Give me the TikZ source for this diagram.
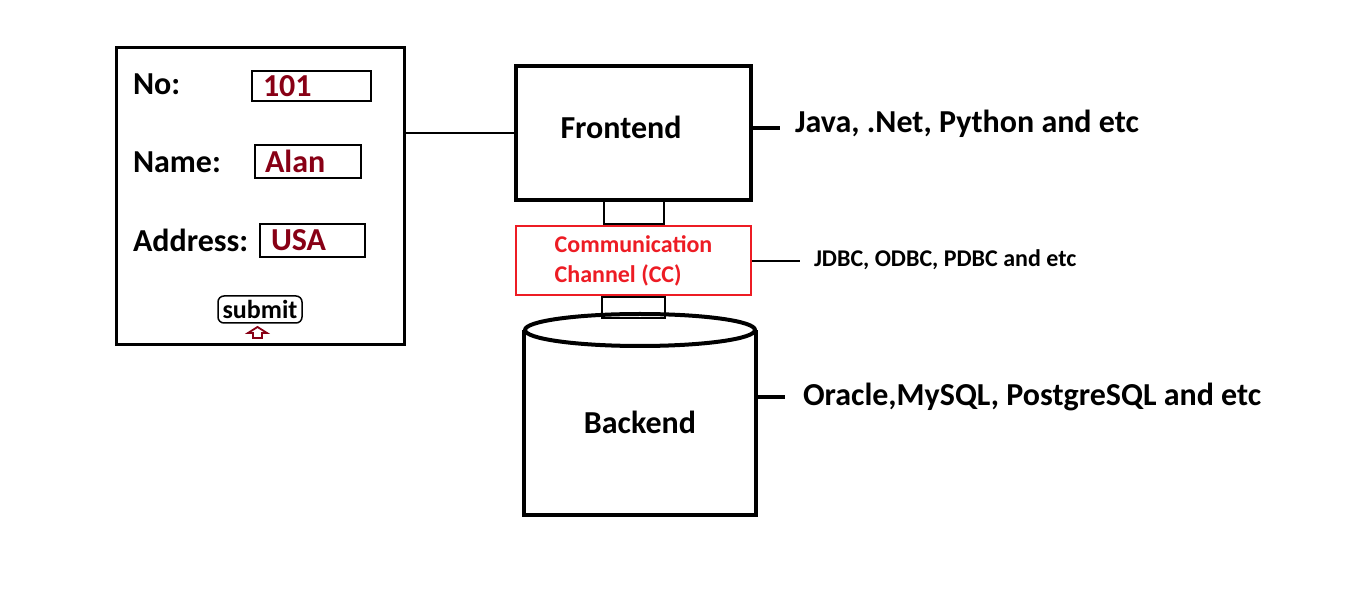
\documentclass[tikz,border=0pt]{standalone}
\usepackage{fontspec}
\setmainfont{Carlito}
\usepackage{tikz}
\usetikzlibrary{calc}
\usetikzlibrary{positioning}
\definecolor{fieldred}{RGB}{136,0,21}
\definecolor{ccred}{RGB}{237,28,36}

\begin{document}
\begin{tikzpicture}[x=1pt, y=1pt,
    font=\fontsize{32}{36}\selectfont\bfseries,
    inner sep=0pt,
    line width=2pt]
    % the form
    \node[name=form,
      shape=rectangle,
      line width=3pt,
      minimum width=288pt,
      minimum height=297pt,
      draw] at (260,416.5) {};

    \node[name=nolbl, anchor=base west] at (132,518) {No:};
    \node[name=namelbl, anchor=base west] at (132,440) {Name:};
    \node[name=addrlbl, anchor=base west] at (132,361) {Address:};

    \node[name=nofield,
      shape=rectangle,
      line width=2.5pt,
      minimum height=30pt,
      text width=97pt,
      inner xsep=11pt,
      align=left,
      text=fieldred,
      draw] at (311.5,527) {101};

    \node[name=namefield,
      shape=rectangle,
      line width=2.5pt,
      minimum height=33pt,
      text width=86pt,
      inner xsep=10pt,
      align=left,
      text=fieldred,
      draw] at (308,451.5) {Alan};

    \node[name=addrfield,
      shape=rectangle,
      line width=2.5pt,
      minimum height=33pt,
      text width=83pt,
      inner xsep=11pt,
      align=left,
      text=fieldred,
      draw] at (312.5,372.5) {USA};

    \node[name=submit,
      shape=rectangle,
      rounded corners=6pt,
      line width=1.5pt,
      minimum width=84pt,
      minimum height=27pt,
      font=\fontsize{26}{30}\selectfont\bfseries,
      draw] at (260,303.5) {submit};

    \draw[fieldred, line width=1.8pt]
      (248,280) -- (257.5,286) -- (267,280) -- (262,280) --
      (262,275) -- (253,275) -- (253,280) -- cycle;

    % frontend, channel, backend
    \node[name=frontend,
      shape=rectangle,
      line width=4pt,
      minimum width=235pt,
      minimum height=134pt,
      draw] at (633.5,480) {};
    \node[name=fetext, anchor=base] at (621,474) {Frontend};

    \node[name=link1,
      shape=rectangle,
      minimum width=60pt,
      minimum height=23pt,
      below=-2pt of frontend,
      draw] {};

    \node[name=cc,
      shape=rectangle,
      minimum width=235pt,
      minimum height=69pt,
      align=left,
      draw=ccred,
      text=ccred,
      font=\fontsize{24}{30}\selectfont\bfseries,
      below=0pt of link1] {Communication\\Channel (CC)};

    \node[name=link2,
      shape=rectangle,
      minimum width=63pt,
      minimum height=21pt,
      below=0pt of cc,
      draw] {};

    \node[name=backend,
      minimum width=230pt,
      minimum height=183pt] at (640,190.5) {Backend};
    \draw[line width=4pt] (backend.north west) -- (backend.south west)
      -- (backend.south east) -- (backend.north east);
    \draw[line width=4pt] (backend.north) ellipse [x radius=115pt, y radius=16pt];

    % technologies
    \coordinate (fetick) at (780,485);
    \coordinate (cctick) at (800,352);
    \coordinate (betick) at (785,216);

    \node[name=fetech, anchor=base west] at (794,480) {Java, .Net, Python and etc};
    \node[name=cctech, anchor=base west,
      font=\fontsize{24}{30}\selectfont\bfseries] at (813,346) {JDBC, ODBC, PDBC and etc};
    \node[name=betech, anchor=base west] at (802,207) {Oracle,MySQL, PostgreSQL and etc};

    \path (form.east |- frontend.west) edge (frontend.west);
    \path (frontend.east |- fetick) edge[line width=4pt] (fetick);
    \path (cc.east |- cctick) edge (cctick);
    \path (backend.east |- betick) edge[line width=4pt] (betick);

    \path [use as bounding box] (0,0) rectangle (1360,613);
  \end{tikzpicture}
\end{document}
